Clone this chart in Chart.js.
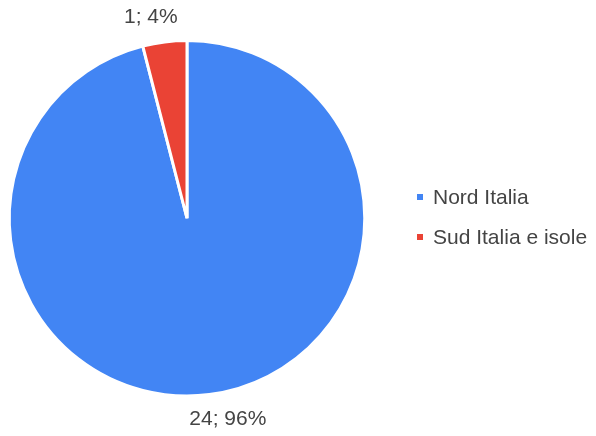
<!DOCTYPE html>
<html>
<head>
<meta charset="utf-8">
<script src="https://cdn.jsdelivr.net/npm/chart.js@4"></script>
<style>
  html, body { margin: 0; padding: 0; background: #fff; }
  #wrap { width: 596px; height: 436px; position: relative; }
</style>
</head>
<body>
<div id="wrap"><canvas id="pie"></canvas></div>
<script>
// --- DATI ---
const categories = ['Nord Italia', 'Sud Italia e isole'];
const values = [24, 1];
const colors = ['#4285F4', '#EA4335'];

const FONT = '21px "Liberation Sans", Arial, sans-serif';
const TEXT_COLOR = '#444444';

// etichette "valore; percentuale" fuori dalle fette
const sliceLabels = {
    id: 'sliceLabels',
    afterDatasetsDraw(chart) {
        const ctx = chart.ctx;
        const meta = chart.getDatasetMeta(0);
        const total = values.reduce((a, b) => a + b, 0);
        ctx.save();
        ctx.font = FONT;
        ctx.fillStyle = TEXT_COLOR;
        ctx.textAlign = 'center';
        ctx.textBaseline = 'middle';
        meta.data.forEach((arc, i) => {
            const mid = (arc.startAngle + arc.endAngle) / 2;
            const r = arc.outerRadius + 25;
            const text = values[i] + '; ' + Math.round(values[i] / total * 100) + '%';
            const w = ctx.measureText(text).width;
            const cos = Math.cos(mid);
            const x = arc.x + cos * r + Math.sign(cos) * w * 0.2;
            const y = arc.y + Math.sin(mid) * r;
            ctx.fillText(text, x, y);
        });
        ctx.restore();
    }
};

// legenda a destra
const sideLegend = {
    id: 'sideLegend',
    afterDraw(chart) {
        const ctx = chart.ctx;
        ctx.save();
        ctx.font = FONT;
        ctx.textBaseline = 'middle';
        categories.forEach((name, i) => {
            const y = 197 + i * 40;
            ctx.fillStyle = colors[i];
            ctx.fillRect(417, y - 3, 6, 6);
            ctx.fillStyle = TEXT_COLOR;
            ctx.fillText(name, 433, y + 1);
        });
        ctx.restore();
    }
};

new Chart(document.getElementById('pie'), {
    type: 'pie',
    data: {
        labels: categories,
        datasets: [{
            data: values,
            backgroundColor: colors,
            borderColor: '#ffffff',
            borderWidth: 3
        }]
    },
    options: {
        responsive: true,
        maintainAspectRatio: false,
        animation: false,
        layout: { padding: { left: 7.5, top: 39, right: 229.5, bottom: 38.5 } },
        plugins: {
            legend: { display: false },
            tooltip: { enabled: false }
        }
    },
    plugins: [sliceLabels, sideLegend]
});
</script>
</body>
</html>
